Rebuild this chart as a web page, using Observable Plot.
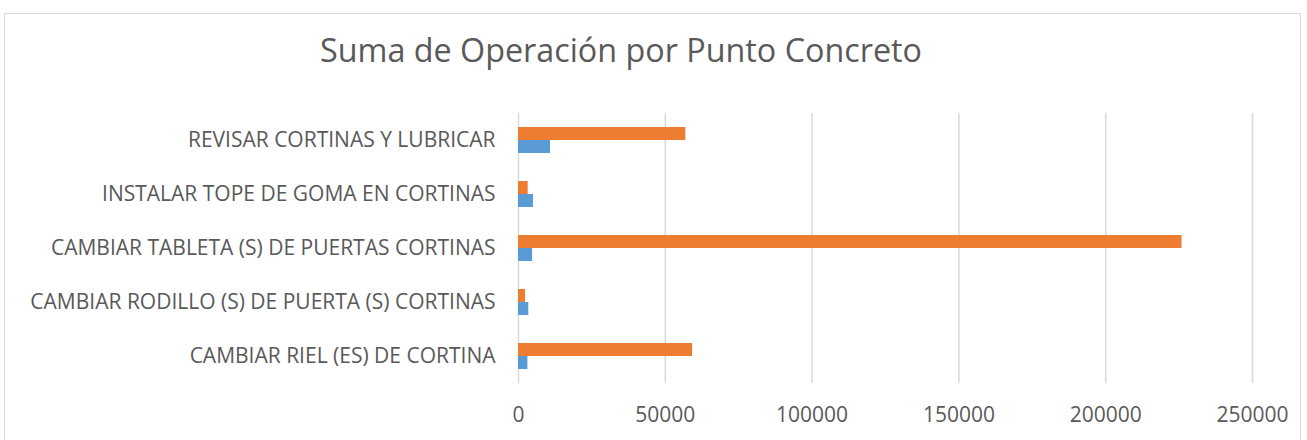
<!DOCTYPE html>
<html>
<head>
<meta charset="utf-8">
<script src="https://cdn.jsdelivr.net/npm/d3@7"></script>
<script src="https://cdn.jsdelivr.net/npm/@observablehq/plot@0.6"></script>
<style>
  html, body { margin: 0; padding: 0; background: #fff; }
  body { width: 1307px; height: 440px; position: relative; overflow: hidden; font-family: "Open Sans", sans-serif; }
  #frame { position: absolute; left: 4px; top: 13px; width: 1297px; height: 440px; border: 1px solid #d9d9d9; box-sizing: border-box; }
  #title { position: absolute; left: 0; width: 1242px; top: 29px; text-align: center; font-size: 32.3px; color: #595959; line-height: 40px; }
  #chart { position: absolute; left: 0; top: 100px; }
  #chart svg { overflow: visible; }
</style>
</head>
<body>
<div id="frame"></div>
<div id="title">Suma de Operación por Punto Concreto</div>
<div id="chart"></div>
<script>
const categories = [
  "REVISAR CORTINAS Y LUBRICAR",
  "INSTALAR TOPE DE GOMA EN CORTINAS",
  "CAMBIAR TABLETA (S) DE PUERTAS CORTINAS",
  "CAMBIAR RODILLO (S) DE PUERTA (S) CORTINAS",
  "CAMBIAR RIEL (ES) DE CORTINA"
];
const seriesNames = ["Serie naranja", "Serie azul"];
const seriesColors = ["#ED7D31", "#5B9BD5"];
const orangeValues = [57000, 3300, 226000, 2400, 59300];
const blueValues = [10900, 5100, 4800, 3500, 3200];
const xTicks = [0, 50000, 100000, 150000, 200000, 250000];

const data = [];
categories.forEach((c, i) => {
  data.push({category: c, series: seriesNames[0], value: orangeValues[i]});
  data.push({category: c, series: seriesNames[1], value: blueValues[i]});
});

const chart = Plot.plot({
  width: 1307,
  height: 340,
  marginLeft: 518,
  marginRight: 55,
  marginTop: 11,
  marginBottom: 55,
  style: {fontFamily: "Open Sans, sans-serif", color: "#595959", background: "transparent"},
  x: {domain: [0, 250000], ticks: xTicks, tickFormat: d => String(d), label: null},
  fy: {domain: categories, padding: 0, label: null},
  y: {domain: seriesNames, paddingInner: 0, paddingOuter: 0.95, axis: null},
  color: {domain: seriesNames, range: seriesColors},
  marks: [
    Plot.gridX(xTicks, {stroke: "#d9d9d9", strokeOpacity: 1, strokeWidth: 1.5}),
    Plot.barX(data, {x: "value", y: "series", fy: "category", fill: "series"}),
    Plot.axisFy({anchor: "left", tickSize: 0, tickPadding: 23, fontSize: 21, fill: "#595959", label: null}),
    Plot.axisX(xTicks, {anchor: "bottom", tickSize: 0, tickPadding: 24, fontSize: 21, fill: "#595959", label: null, tickFormat: d => String(d)})
  ]
});
document.getElementById("chart").appendChild(chart);
</script>
</body>
</html>
